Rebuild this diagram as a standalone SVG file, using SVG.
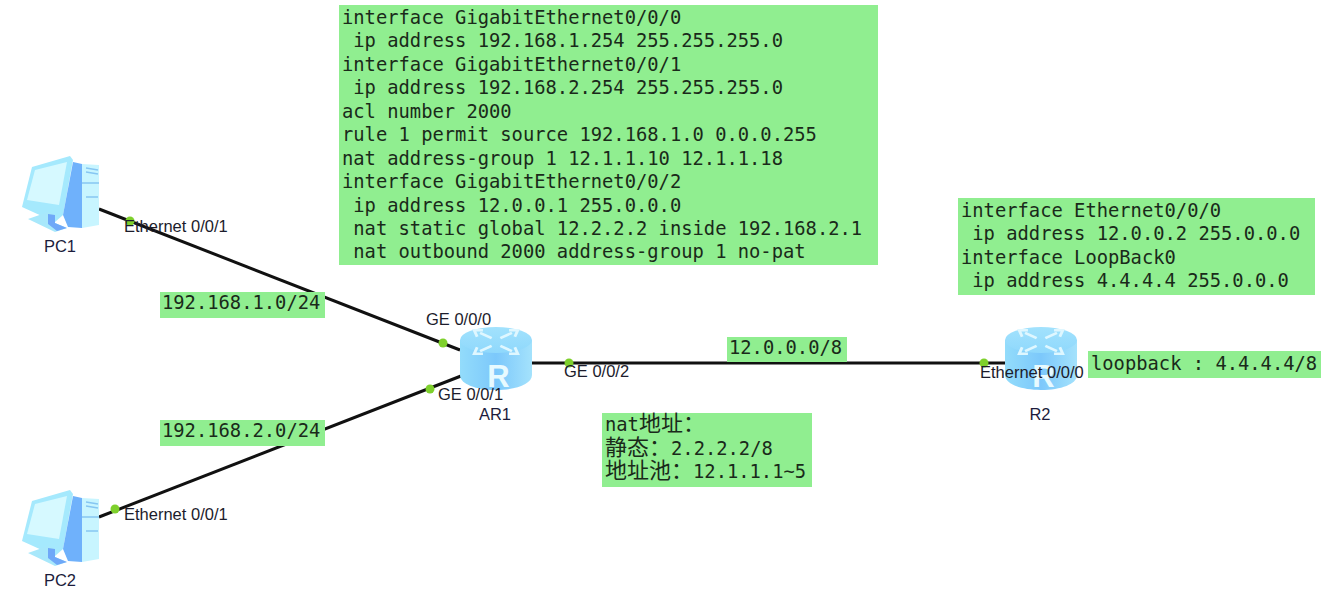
<svg xmlns="http://www.w3.org/2000/svg" width="1329" height="601" viewBox="0 0 1329 601">
<style>
.lbl{font-family:"Liberation Sans",Arial,sans-serif;font-size:16.5px;fill:#1c1c2c}
.name{font-family:"Liberation Sans",Arial,sans-serif;font-size:16.5px;fill:#1c1c3c}
.mono{font-family:"DejaVu Sans Mono","Noto Sans CJK SC",monospace;font-size:18.8px;fill:#1a2a1a;white-space:pre}
.cjk{font-family:"Noto Sans CJK SC",sans-serif;font-size:22px}
.box{fill:#90ee90}
.wire{stroke:#111;stroke-width:3;fill:none}
.dot{fill:#7ed02c}
.sym{fill:none;stroke:#dff7ff;stroke-width:2}
</style>
<defs>
<linearGradient id="rb" x1="0" x2="1" y1="0" y2="0"><stop offset="0" stop-color="#93dcfb"/><stop offset=".5" stop-color="#7cc8fb"/><stop offset="1" stop-color="#a4e2fc"/></linearGradient>
<linearGradient id="rt" x1="0" x2="0" y1="0" y2="1"><stop offset="0" stop-color="#a2e2fd"/><stop offset="1" stop-color="#8fd8fc"/></linearGradient>
<g id="router">
<path d="M0 13V48C0 57 16 63 36 63S72 57 72 48V13Z" fill="url(#rb)"/>
<ellipse cx="36" cy="13" rx="36" ry="13" fill="url(#rt)"/>
<path class="sym" transform="translate(36 15) scale(1.45 1.3) translate(-36 -13)" d="M25 6l8 4M27 4h-6l2 5M47 6l-8 4M45 4h6l-2 5M25 20l8-4M27 22h-6l2-5M47 20l-8-4M45 22h6l-2-5"/>
<text x="38.500" y="60" text-anchor="middle" font-family="Liberation Sans,sans-serif" font-weight="bold" font-size="31" fill="#e8faff">R</text>
</g>
<g id="pc">
<path d="M32 11L70 0L73 4L63 59L55 66L22 51Z" fill="#a5e9fd"/>
<path d="M35 14L67 6L59 49L27 44Z" fill="#d6f9ff"/>
<path d="M28 63L48 56L55 59V67L67 72L55 76Z" fill="#a8e8fb"/>
<path d="M48 58L55 59V67L67 72L57 75L48 68Z" fill="#6fa8f8"/>
<path d="M73 6L82 8V72L68 71L63 59Z" fill="#6fb1fb"/>
<path d="M82 8L99 9V69L82 72Z" fill="#c8f5ff"/>
<path d="M86 12L98 14M86 16L98 18M82 27H99M86 41H98" stroke="#86c6f2" stroke-width="1.3" fill="none"/>
</g>
</defs>
<g id="connectors">
<path class="wire" d="M99 209L460 350"/>
<path class="wire" d="M99 517L461 376"/>
<path class="wire" d="M532 363H1005"/>
</g>
<g id="PC1"><use href="#pc" x="0" y="156"/><text class="name" x="60" y="251.500" text-anchor="middle">PC1</text></g>
<g id="PC2"><use href="#pc" x="0" y="490"/><text class="name" x="60" y="586" text-anchor="middle">PC2</text></g>
<g id="AR1"><use href="#router" x="460" y="327"/><text class="name" x="495" y="420" text-anchor="middle">AR1</text></g>
<g id="R2"><use href="#router" x="1005" y="327"/><text class="name" x="1040" y="420" text-anchor="middle">R2</text></g>
<g id="ports">
<circle class="dot" cx="130" cy="221" r="4.5"/>
<circle class="dot" cx="443" cy="343" r="4.5"/>
<circle class="dot" cx="430" cy="389" r="4.5"/>
<circle class="dot" cx="115" cy="509" r="4.5"/>
<circle class="dot" cx="569" cy="363" r="4.5"/>
<circle class="dot" cx="984" cy="363" r="4.5"/>
<text class="lbl" x="124" y="232">Ethernet 0/0/1</text>
<text class="lbl" x="124" y="520">Ethernet 0/0/1</text>
<text class="lbl" x="426" y="325">GE 0/0/0</text>
<text class="lbl" x="438" y="400">GE 0/0/1</text>
<text class="lbl" x="564" y="377">GE 0/0/2</text>
<text class="lbl" x="980" y="378">Ethernet 0/0/0</text>
</g>
<g id="note-ar1"><rect class="box" x="339" y="5" width="539" height="260"/>
<text class="mono" x="342" y="23.500">interface GigabitEthernet0/0/0</text>
<text class="mono" x="342" y="47"> ip address 192.168.1.254 255.255.255.0</text>
<text class="mono" x="342" y="70.500">interface GigabitEthernet0/0/1</text>
<text class="mono" x="342" y="94"> ip address 192.168.2.254 255.255.255.0</text>
<text class="mono" x="342" y="117.500">acl number 2000</text>
<text class="mono" x="342" y="141">rule 1 permit source 192.168.1.0 0.0.0.255</text>
<text class="mono" x="342" y="164.500">nat address-group 1 12.1.1.10 12.1.1.18</text>
<text class="mono" x="342" y="188">interface GigabitEthernet0/0/2</text>
<text class="mono" x="342" y="211.500"> ip address 12.0.0.1 255.0.0.0</text>
<text class="mono" x="342" y="235"> nat static global 12.2.2.2 inside 192.168.2.1</text>
<text class="mono" x="342" y="258"> nat outbound 2000 address-group 1 no-pat</text>
</g>
<g id="note-r2"><rect class="box" x="958" y="198" width="357" height="97"/>
<text class="mono" x="961" y="216.500">interface Ethernet0/0/0</text>
<text class="mono" x="961" y="240"> ip address 12.0.0.2 255.0.0.0</text>
<text class="mono" x="961" y="263.500">interface LoopBack0</text>
<text class="mono" x="961" y="287"> ip address 4.4.4.4 255.0.0.0</text>
</g>
<g id="net1"><rect class="box" x="160" y="292" width="165" height="26"/><text class="mono" x="162" y="309">192.168.1.0/24</text></g>
<g id="net2"><rect class="box" x="160" y="420" width="165" height="26"/><text class="mono" x="162" y="437">192.168.2.0/24</text></g>
<g id="net3"><rect class="box" x="727" y="337" width="120" height="25"/><text class="mono" x="729" y="354">12.0.0.0/8</text></g>
<g id="loopback"><rect class="box" x="1088" y="351" width="233" height="27"/><text class="mono" x="1091" y="369.500">loopback : 4.4.4.4/8</text></g>
<g id="note-nat"><rect class="box" x="602" y="413" width="210" height="74"/>
<text class="mono" x="605" y="431">nat<tspan class="cjk">地址：</tspan></text>
<text class="mono" x="605" y="455"><tspan class="cjk">静态：</tspan>2.2.2.2/8</text>
<text class="mono" x="605" y="478"><tspan class="cjk">地址池：</tspan>12.1.1.1~5</text>
</g>
</svg>
